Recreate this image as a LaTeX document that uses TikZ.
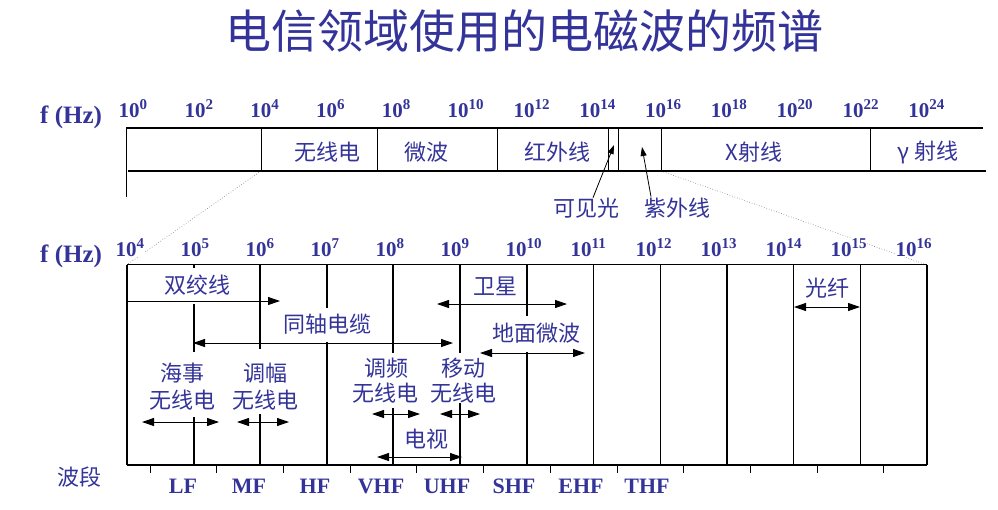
\documentclass[tikz,border=0pt]{standalone}
\usepackage{fontspec}
\setmainfont{Liberation Serif}
\newfontfamily\cjk{Noto Sans CJK SC}
\usetikzlibrary{arrows.meta}
\definecolor{myblue}{RGB}{51,51,153}
\newcommand\pw[1]{10\raisebox{7.5pt}{\fontsize{15}{15}\selectfont #1}}
\begin{document}
\begin{tikzpicture}[x=1pt,y=-1pt,
  lab/.style={font=\cjk\fontsize{22}{22}\selectfont, text=myblue, inner sep=0pt},
  num/.style={font=\bfseries\fontsize{21}{21}\selectfont, text=myblue, inner sep=0.5pt, anchor=base west, fill=white},
  band/.style={font=\bfseries\fontsize{22}{22}\selectfont, text=myblue, inner sep=0pt, anchor=base},
  fhz/.style={font=\bfseries\fontsize{25}{25}\selectfont, text=myblue, inner sep=0pt, anchor=base west},
  thick line/.style={line width=1.6pt},
  topline/.style={line width=1.3pt},
  topv/.style={line width=0.9pt},
  big arrow/.style={line width=0.9pt, -{Triangle[length=12pt,width=8pt]}},
  big darrow/.style={line width=0.9pt, {Triangle[length=12pt,width=8pt]}-{Triangle[length=12pt,width=8pt]}},
  small arrow/.style={line width=0.8pt, -{Triangle[length=9pt,width=6pt]}},
  zoomline/.style={black!55, dotted, line width=0.6pt}
]
\useasboundingbox (0,0) rectangle (998,509);

% title
\node[lab, font=\cjk\fontsize{46}{46}\selectfont] (title) at (524,31) {电信领域使用的电磁波的频谱};

% ---------- top band ----------
\coordinate (zl1) at (261,171);
\coordinate (zl2) at (128,264);
\coordinate (zr1) at (661,171);
\coordinate (zr2) at (927,265);
\draw[zoomline] (zl1) -- (zl2);
\draw[zoomline] (zr1) -- (zr2);

\draw[topline] (126,128) -- (983,128);
\draw[topline] (128,171) -- (986,171);
\draw[topv] (126,128) -- (126,197);
\foreach \x in {261,377,497,608,618,661,870}
  \draw[topv] (\x,129) -- (\x,171);

\node[fhz] (fhz1) at (40,123) {f (Hz)};
\foreach \k in {0,2,...,24}
  \node[num] (t\k) at ({118+32.9*\k},117) {\pw{\k}};

\node[lab] (radio) at (327,152) {无线电};
\node[lab] (micro) at (426,152) {微波};
\node[lab] (ir) at (557,152) {红外线};
\node[lab] (xray) at (754,152) {X射线};
\node[lab] (gamma) at (928,152) {γ 射线};

\node[lab] (vis) at (586,208) {可见光};
\node[lab] (uv) at (677,208) {紫外线};
\coordinate (vistip) at (614,145);
\coordinate (uvtip) at (642,147);
\draw[small arrow] (vis.north) ++(7,0) -- (vistip);
\draw[small arrow] (uv.north) ++(-26,-1) -- (uvtip);

% ---------- bottom band ----------
\node[fhz] (fhz2) at (40,262) {f (Hz)};
\foreach \k in {4,...,16}
  \node[num] (b\k) at ({115+65*(\k-4)},256) {\pw{\k}};

\draw[thick line] (127,264.5) -- (927,264.5);
\draw[thick line] (127,465) -- (927,465);
% vertical lines (with gaps for labels)
\draw[thick line] (127,264.5) -- (127,465);
\draw[thick line] (194,264.5) -- (194,268) (194,304) -- (194,352) (194,417) -- (194,465);
\draw[thick line] (260,264.5) -- (260,349) (260,414) -- (260,465);
\draw[thick line] (327,264.5) -- (327,308) (327,342) -- (327,465);
\draw[thick line] (393,264.5) -- (393,353) (393,408) -- (393,465);
\draw[thick line] (460,264.5) -- (460,353) (460,403) -- (460,465);
\draw[thick line] (527,264.5) -- (527,316) (527,352) -- (527,465);
\foreach \k in {11,...,16}
  \draw[thick line] ({127+66.667*(\k-4)},264.5) -- ({127+66.667*(\k-4)},465);
% ticks
\foreach \i in {0,...,11}
  \draw[line width=0.8pt] ({150+66.7*\i},465) -- ({150+66.7*\i},473);

\node[lab] (bd) at (79,477) {波段};
\foreach \n/\x in {LF/183,MF/249,HF/315,VHF/381,UHF/447,SHF/514,EHF/581,THF/647}
  \node[band] (\n) at (\x,493) {\n};

% labels and ranges
\node[lab] (twist) at (197,285) {双绞线};
\coordinate (tw1) at (127,301); \coordinate (tw2) at (280,301);
\draw[big arrow] (tw1) -- (tw2);

\node[lab] (coax) at (327,324) {同轴电缆};
\coordinate (cx1) at (193,343); \coordinate (cx2) at (453,343);
\draw[big darrow] (cx1) -- (cx2);

\node[lab] (sat) at (495,286) {卫星};
\coordinate (st1) at (437,304); \coordinate (st2) at (567,304);
\draw[big darrow] (st1) -- (st2);

\node[lab] (ground) at (536,333) {地面微波};
\coordinate (gd1) at (480,353); \coordinate (gd2) at (585,353);
\draw[big darrow] (gd1) -- (gd2);

\node[lab] (fiber) at (827,288) {光纤};
\coordinate (fb1) at (794,307); \coordinate (fb2) at (860,307);
\draw[big darrow] (fb1) -- (fb2);

\node[lab] (mar1) at (182,373) {海事};
\node[lab] (mar2) at (182,400) {无线电};
\coordinate (mr1) at (142,422); \coordinate (mr2) at (219,422);
\draw[big darrow] (mr1) -- (mr2);

\node[lab] (am1) at (265,373) {调幅};
\node[lab] (am2) at (265,400) {无线电};
\coordinate (am1a) at (237,422); \coordinate (am2a) at (289,422);
\draw[big darrow] (am1a) -- (am2a);

\node[lab] (fm1) at (386,368) {调频};
\node[lab] (fm2) at (385,393) {无线电};
\coordinate (fm1a) at (372,414); \coordinate (fm2a) at (420,414);
\draw[big darrow] (fm1a) -- (fm2a);

\node[lab] (mob1) at (463,368) {移动};
\node[lab] (mob2) at (463,393) {无线电};
\coordinate (mb1) at (440,414); \coordinate (mb2) at (480,414);
\draw[big darrow] (mb1) -- (mb2);

\node[lab] (tv) at (426,439) {电视};
\coordinate (tv1) at (377,457); \coordinate (tv2) at (462,457);
\draw[big darrow] (tv1) -- (tv2);
\end{tikzpicture}
\end{document}
